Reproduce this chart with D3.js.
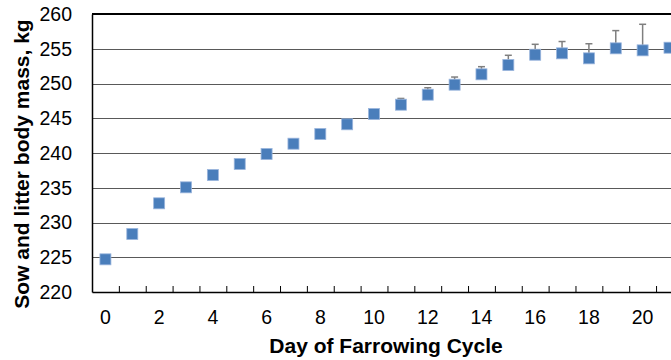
<!DOCTYPE html>
<html><head><meta charset="utf-8">
<script src="https://cdn.jsdelivr.net/npm/d3@7"></script>
<style>body{margin:0;background:#fff;} svg{display:block;}</style>
</head><body>
<script>
const days = [0,1,2,3,4,5,6,7,8,9,10,11,12,13,14,15,16,17,18,19,20,21];
const mass = [224.7,228.35,232.76,235.06,236.83,238.42,239.86,241.34,242.73,244.13,245.61,246.95,248.39,249.83,251.32,252.66,254.14,254.34,253.62,255.06,254.77,255.15];
const errUp = [0,0,0.1,0,0,0,0,0,0,0.3,0.6,0.9,1.0,1.1,1.1,1.4,1.5,1.7,2.1,2.55,3.75,0];
const xTickLabels = [0,2,4,6,8,10,12,14,16,18,20];
const yTicks = [220,225,230,235,240,245,250,255,260];

(function(){
const W = 671, H = 360;
const mLeft = 92, mTop = 14, mBottom = 292, step = 26.86;
const svg = d3.select("body").append("svg").attr("width", W).attr("height", H);

const x = d3.scaleLinear().domain([-0.5, 21.5]).range([mLeft, mLeft + 22*step]);
const y = d3.scaleLinear().domain([220, 260]).range([mBottom, mTop]);
const font = "'Liberation Sans', Arial, sans-serif";

svg.append("g").selectAll("line").data(yTicks.filter(d => d > 220 && d < 260)).join("line")
  .attr("x1", mLeft).attr("x2", W).attr("y1", d => Math.round(y(d)) + 0.5).attr("y2", d => Math.round(y(d)) + 0.5)
  .attr("stroke", "#595959").attr("stroke-width", 1);
svg.append("line").attr("x1", mLeft).attr("x2", W).attr("y1", y(260)).attr("y2", y(260))
  .attr("stroke", "#000").attr("stroke-width", 2);

const xAxis = d3.axisBottom(x)
  .tickValues(d3.range(0, 23).map(k => k - 0.5))
  .tickSize(-6).tickSizeOuter(0).tickFormat("");
const gx = svg.append("g").attr("transform", `translate(0,${mBottom})`).call(xAxis);
gx.select(".domain").attr("stroke", "#000").attr("stroke-width", 1.5);
gx.selectAll(".tick line").attr("stroke", "#000").attr("stroke-width", 1);

svg.append("g").selectAll("text").data(xTickLabels).join("text")
  .attr("x", d => x(d)).attr("y", 324).attr("text-anchor", "middle")
  .attr("font-family", font).attr("font-size", 19.5).attr("fill", "#000").text(d => d);

const yAxis = d3.axisLeft(y).tickValues(yTicks).tickSize(0).tickPadding(20).tickFormat(d3.format("d"));
const gy = svg.append("g").attr("transform", `translate(${mLeft},0)`).call(yAxis);
gy.select(".domain").attr("stroke", "#000").attr("stroke-width", 1.5);
gy.selectAll(".tick text").attr("font-family", font).attr("font-size", 19.5).attr("fill", "#000");

const eb = svg.append("g");
days.forEach((d, i) => {
  if (errUp[i] <= 0) return;
  eb.append("line").attr("x1", x(d)).attr("x2", x(d)).attr("y1", y(mass[i])).attr("y2", y(mass[i] + errUp[i]))
    .attr("stroke", "#7f7f7f").attr("stroke-width", 1.5);
  eb.append("line").attr("x1", x(d) - 3.5).attr("x2", x(d) + 3.5).attr("y1", y(mass[i] + errUp[i])).attr("y2", y(mass[i] + errUp[i]))
    .attr("stroke", "#7f7f7f").attr("stroke-width", 1.5);
});

const ms = 11;
svg.append("g").selectAll("rect").data(days).join("rect")
  .attr("x", (d) => x(d) - ms/2).attr("y", (d, i) => y(mass[i]) - ms/2)
  .attr("width", ms).attr("height", ms)
  .attr("fill", "#4a7ebb").attr("stroke", "#9ab5dd").attr("stroke-width", 0.8);

svg.append("text").attr("x", 386).attr("y", 353).attr("text-anchor", "middle")
  .attr("font-family", font).attr("font-weight", "bold").attr("font-size", 21).attr("fill", "#000")
  .text("Day of Farrowing Cycle");
svg.append("text").attr("transform", "translate(29,164) rotate(-90)").attr("text-anchor", "middle")
  .attr("font-family", font).attr("font-weight", "bold").attr("font-size", 21).attr("fill", "#000")
  .text("Sow and litter body mass, kg");
})();
</script>
</body></html>
